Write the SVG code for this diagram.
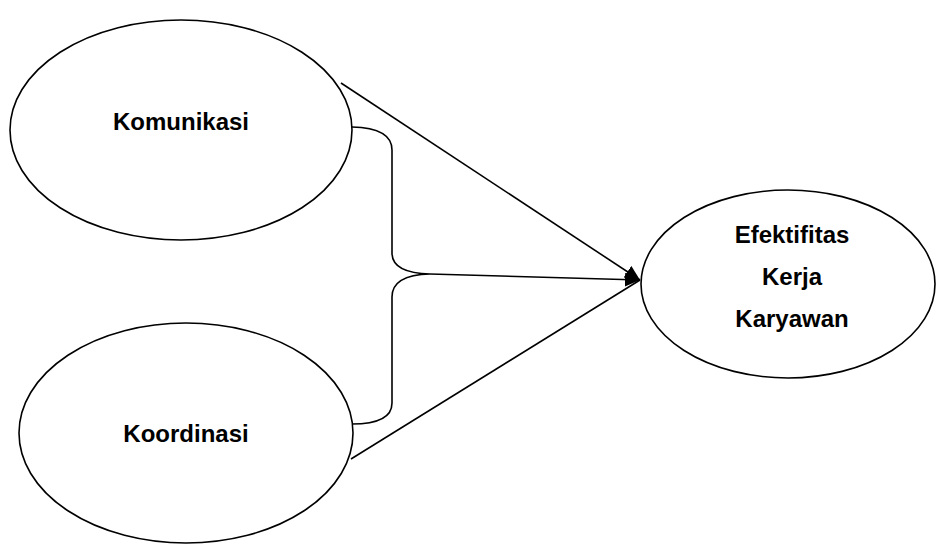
<svg xmlns="http://www.w3.org/2000/svg" width="936" height="546" viewBox="0 0 936 546">
<style>
.node{fill:#fff;stroke:#000;stroke-width:1.6}
.lbl{font-family:"Liberation Sans",Arial,sans-serif;font-weight:bold;font-size:24px;fill:#000;text-anchor:middle;font-variant-ligatures:none}
.con{fill:none;stroke:#000;stroke-width:1.6}
</style>
<defs>
<marker id="arr" markerUnits="userSpaceOnUse" markerWidth="16" markerHeight="16" refX="15" refY="7" orient="auto">
<path d="M0,0 L15,7 L0,14 Z" fill="#000"/>
</marker>
</defs>
<g id="komunikasi">
<ellipse class="node" cx="181" cy="130" rx="171" ry="110"/>
<text class="lbl" x="181" y="130">Komunikasi</text>
</g>
<g id="koordinasi">
<ellipse class="node" cx="186" cy="433" rx="167" ry="110"/>
<text class="lbl" x="186" y="442">Koordinasi</text>
</g>
<g id="efektifitas">
<ellipse class="node" cx="788" cy="284" rx="147" ry="94"/>
<text class="lbl" x="792" y="243">Efektifitas</text>
<text class="lbl" x="792" y="285">Kerja</text>
<text class="lbl" x="792" y="327">Karyawan</text>
</g>
<g id="connectors">
<line class="con" x1="341" y1="83" x2="640" y2="280" marker-end="url(#arr)"/>
<line class="con" x1="351" y1="459" x2="640" y2="280"/>
<line class="con" x1="430" y1="274" x2="640" y2="280" marker-end="url(#arr)"/>
<path class="con" d="M352,127 Q392,128 392,150 L392,253 Q392,273 430,274 Q392,275 392,297 L392,403 Q392,424 352,424"/>
</g>
</svg>
